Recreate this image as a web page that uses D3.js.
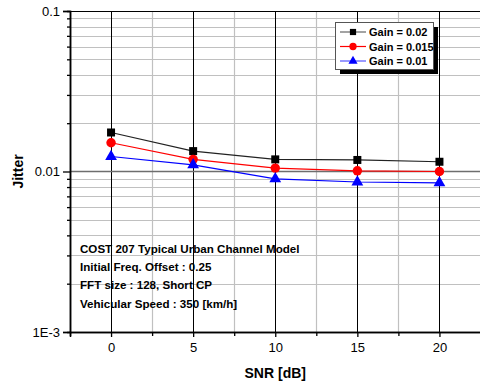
<!DOCTYPE html>
<html>
<head>
<meta charset="utf-8">
<script src="https://cdn.jsdelivr.net/npm/d3@7"></script>
<style>
  body { margin: 0; background: #fff; }
  svg, svg text { font-family: "Liberation Sans", Arial, sans-serif; }
  svg { display: block; }
</style>
</head>
<body>
<div id="chart"></div>
<script>
// data
const snr = [0, 5, 10, 15, 20];
const gain002 = [0.0175, 0.0134, 0.0119, 0.0118, 0.0115];
const gain0015 = [0.0151, 0.0119, 0.0105, 0.0101, 0.0100];
const gain001 = [0.0124, 0.0110, 0.0090, 0.0086, 0.0085];
const seriesNames = ['Gain = 0.02', 'Gain = 0.015', 'Gain = 0.01'];
const yTickLabels = ['1E-3', '0.01', '0.1'];
const notes = [
  'COST 207 Typical Urban Channel Model',
  'Initial Freq. Offset : 0.25',
  'FFT size : 128, Short CP',
  'Vehicular Speed : 350 [km/h]'
];

(($d3) => {
  const width = 480, height = 386;
  const m = { top: 11, left: 70, bottom: 332, right: 480.5 };

  const svg = $d3.select('#chart').append('svg')
    .attr('width', width).attr('height', height);

  const x = $d3.scaleLinear().domain([-2.5, 22.5]).range([m.left, m.right]);
  const y = $d3.scaleLog().domain([0.001, 0.1]).range([m.bottom, m.top]);

  const series = [
    { name: seriesNames[0], values: gain002, color: '#000', line: '#222', legendLine: '#666', shape: 'square' },
    { name: seriesNames[1], values: gain0015, color: '#ff0000', line: '#ff0000', legendLine: '#ff0000', shape: 'circle' },
    { name: seriesNames[2], values: gain001, color: '#0000ff', line: '#0000ff', legendLine: '#5555ff', shape: 'triangle' }
  ];

  // grid
  const grid = svg.append('g');
  const minorY = [];
  [0.001, 0.01].forEach(function (dec) {
    for (let k = 2; k <= 9; k++) minorY.push(dec * k);
  });
  grid.selectAll('line.hminor').data(minorY).enter().append('line')
    .attr('x1', m.left).attr('x2', m.right)
    .attr('y1', d => Math.round(y(d)) + 0.5).attr('y2', d => Math.round(y(d)) + 0.5)
    .attr('stroke', '#c0c0c0').attr('stroke-width', 1.2);
  const minorX = [2.5, 7.5, 12.5, 17.5];
  grid.selectAll('line.vminor').data(minorX).enter().append('line')
    .attr('y1', m.top).attr('y2', m.bottom)
    .attr('x1', d => Math.round(x(d)) + 0.5).attr('x2', d => Math.round(x(d)) + 0.5)
    .attr('stroke', '#c0c0c0').attr('stroke-width', 1.2);
  grid.selectAll('line.vmajor').data(snr).enter().append('line')
    .attr('y1', m.top).attr('y2', m.bottom)
    .attr('x1', d => Math.round(x(d)) + 0.5).attr('x2', d => Math.round(x(d)) + 0.5)
    .attr('stroke', '#000').attr('stroke-width', 1);
  grid.append('line')
    .attr('x1', m.left).attr('x2', m.right)
    .attr('y1', y(0.01)).attr('y2', y(0.01))
    .attr('stroke', '#6e6e6e').attr('stroke-width', 1.6);
  grid.append('line')
    .attr('x1', m.left).attr('x2', m.right)
    .attr('y1', m.top + 0.5).attr('y2', m.top + 0.5)
    .attr('stroke', '#000').attr('stroke-width', 1.2);

  // axes
  const yMajor = [0.001, 0.01, 0.1];
  const yAxis = svg.append('g').attr('transform', 'translate(' + m.left + ',0)');
  yAxis.call($d3.axisLeft(y).tickValues(minorY).tickSize(3).tickFormat(''));
  yAxis.append('g').call($d3.axisLeft(y).tickValues(yMajor).tickSize(7)
    .tickFormat((d, i) => yTickLabels[i]).tickPadding(3));
  yAxis.selectAll('.domain').attr('stroke', '#000').attr('stroke-width', 1.5);
  yAxis.selectAll('line').attr('stroke', '#000').attr('stroke-width', 1.3);
  yAxis.attr('font-family', null).selectAll('g').attr('font-family', null);
  yAxis.selectAll('text').attr('font-size', 13).attr('fill', '#000');

  const xAxis = svg.append('g').attr('transform', 'translate(0,' + m.bottom + ')');
  xAxis.call($d3.axisBottom(x).tickValues(minorX).tickSize(4).tickFormat(''));
  xAxis.append('g').call($d3.axisBottom(x).tickValues(snr).tickSize(5).tickPadding(6));
  xAxis.selectAll('.domain').attr('stroke', '#000').attr('stroke-width', 1.5);
  xAxis.selectAll('line').attr('stroke', '#000').attr('stroke-width', 1.3);
  xAxis.attr('font-family', null).selectAll('g').attr('font-family', null);
  xAxis.selectAll('text').attr('font-size', 13).attr('fill', '#000');

  // axis titles
  svg.append('text')
    .attr('x', (x(0) + x(20)) / 2).attr('y', 378)
    .attr('text-anchor', 'middle').attr('font-weight', 'bold').attr('font-size', 14)
    .text('SNR [dB]');
  svg.append('text')
    .attr('transform', 'translate(23,' + y(0.01) + ') rotate(-90)')
    .attr('text-anchor', 'middle').attr('font-weight', 'bold').attr('font-size', 14)
    .text('Jitter');

  // series
  const line = $d3.line().x((d, i) => x(snr[i])).y(d => y(d));
  const symbols = { square: $d3.symbolSquare, circle: $d3.symbolCircle, triangle: $d3.symbolTriangle };
  const sizes = { square: 64, circle: 70, triangle: 60 };

  series.forEach(function (s) {
    svg.append('path').datum(s.values)
      .attr('d', line).attr('fill', 'none')
      .attr('stroke', s.line).attr('stroke-width', 1.2);
    svg.selectAll(null).data(s.values).enter().append('path')
      .attr('transform', (d, i) => 'translate(' + x(snr[i]) + ',' + y(d) + ')')
      .attr('d', $d3.symbol().type(symbols[s.shape]).size(sizes[s.shape]))
      .attr('fill', s.color);
  });

  // legend
  const lg = svg.append('g').attr('transform', 'translate(335,22)');
  lg.append('rect').attr('x', 5).attr('y', 5).attr('width', 98).attr('height', 47).attr('fill', '#000');
  lg.append('rect').attr('x', 0.5).attr('y', 0.5).attr('width', 98).attr('height', 47)
    .attr('fill', '#fff').attr('stroke', '#555').attr('stroke-width', 1);
  series.forEach(function (s, i) {
    const ly = 10 + i * 14.5;
    lg.append('line').attr('x1', 5).attr('x2', 31).attr('y1', ly).attr('y2', ly)
      .attr('stroke', s.legendLine).attr('stroke-width', 1.2);
    lg.append('path')
      .attr('transform', 'translate(18,' + ly + ')')
      .attr('d', $d3.symbol().type(symbols[s.shape]).size(sizes[s.shape] * 0.6))
      .attr('fill', s.color);
    lg.append('text').attr('x', 34).attr('y', ly + 4)
      .attr('font-size', 11).attr('font-weight', 'bold')
      .text(s.name);
  });

  // annotation
  svg.append('g').selectAll('text').data(notes).enter().append('text')
    .attr('x', 80).attr('y', (d, i) => 253 + i * 18.2)
    .attr('font-size', 11.6).attr('font-weight', 'bold')
    .text(d => d);
})(d3);
</script>
</body>
</html>
